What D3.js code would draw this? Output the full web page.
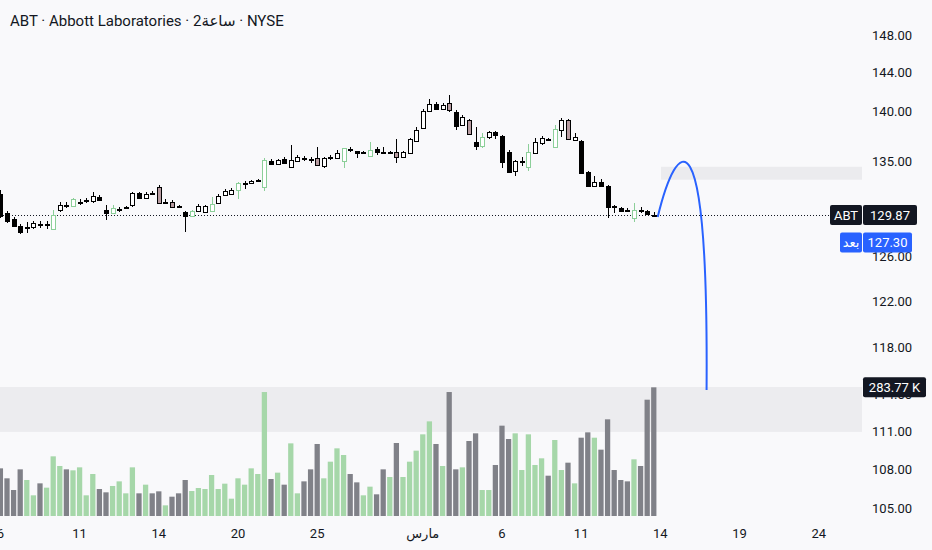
<!DOCTYPE html>
<html>
<head>
<meta charset="utf-8">
<script src="https://cdn.jsdelivr.net/npm/d3@7"></script>
<style>
  html, body { margin: 0; padding: 0; background: #f9f9fb; }
  svg { display: block; font-family: Roboto, "DejaVu Sans", sans-serif; }
</style>
</head>
<body>
<div id="chart"></div>
<script>
// 2h bars, ABT, Feb 6 -> Mar 13 (100 bars)
const openP = [131.87,130.07,129.51,128.85,128.75,128.75,129.04,129.02,128.56,130.35,
  130.84,130.75,131.08,131.28,131.20,131.58,130.35,130.07,130.43,130.57,
  130.82,131.96,131.49,131.98,132.54,131.08,131.11,130.70,130.16,129.79,
  130.26,130.16,130.26,131.01,131.77,131.87,132.25,132.90,132.93,133.20,
  132.58,135.10,134.78,135.24,134.51,135.10,135.35,135.25,135.40,134.61,
  135.47,135.40,135.04,136.25,136.05,135.92,135.59,136.25,135.98,135.95,
  135.92,135.43,135.85,137.07,138.31,140.08,140.80,140.25,140.87,140.00,
  138.67,139.15,136.97,136.57,137.47,137.97,137.54,135.98,134.09,135.07,
  134.51,135.85,136.84,137.24,136.47,138.14,139.15,137.14,137.07,134.02,
  132.67,133.06,132.64,130.77,130.55,130.37,129.63,130.37,130.26,129.90];
const highP = [132.25,130.26,129.69,129.04,129.22,129.32,129.32,129.32,130.35,131.11,
  131.11,131.49,131.39,131.49,132.06,131.77,130.82,130.82,130.63,130.73,
  132.06,132.06,132.06,132.16,132.74,131.39,131.30,130.82,130.26,130.35,
  130.92,130.82,131.58,131.87,132.35,132.45,133.03,133.12,133.22,133.32,
  135.40,135.27,135.27,135.50,136.64,135.66,135.56,135.46,136.47,135.46,
  135.66,136.15,136.35,136.45,136.05,136.02,136.97,136.47,136.47,136.05,
  137.24,136.05,137.34,138.41,140.22,141.24,140.94,140.84,141.65,140.18,
  139.68,139.25,138.47,137.81,138.07,138.04,137.64,136.15,135.17,135.50,
  136.74,137.37,137.57,137.34,138.64,139.32,139.25,137.81,137.14,134.09,
  133.60,133.28,132.74,130.80,130.64,130.51,130.98,130.67,130.35,130.20];
const lowP = [129.60,129.13,128.75,128.10,128.19,128.56,128.66,128.56,128.47,130.16,
  130.54,130.63,130.82,131.01,131.01,131.20,129.41,129.97,130.16,130.45,
  130.63,131.39,131.39,131.87,130.92,130.92,130.54,130.54,128.28,129.69,
  130.16,130.07,130.16,130.92,131.68,131.77,131.39,132.35,132.84,133.12,
  132.20,134.68,134.68,134.78,134.48,135.07,135.07,134.85,134.68,134.38,
  135.17,135.37,134.38,135.95,135.40,135.86,135.56,135.66,135.92,135.90,
  134.88,135.37,135.76,137.04,138.23,139.98,140.22,140.11,139.98,138.17,
  138.51,137.64,136.15,136.30,137.21,137.24,134.42,133.99,133.60,134.61,
  134.09,135.76,136.64,137.04,136.44,137.47,137.14,137.09,133.76,132.54,
  132.51,132.54,129.63,130.07,130.16,130.16,129.25,130.07,129.88,129.78];
const closeP = [129.79,129.32,128.85,128.28,128.76,129.13,129.02,129.05,129.88,130.82,
  130.80,131.39,131.11,131.31,131.68,131.30,130.07,130.54,130.45,130.60,
  131.96,131.49,131.87,131.94,131.01,131.11,130.63,130.66,129.79,130.26,
  130.73,130.73,130.92,131.68,132.16,132.25,132.93,132.93,133.15,133.22,
  135.17,134.78,135.17,134.85,135.17,135.43,135.32,135.22,134.68,135.40,
  135.50,135.82,136.33,136.22,135.82,135.95,136.15,135.92,135.95,135.98,
  135.50,135.92,137.21,138.14,140.08,140.80,140.29,140.63,140.11,138.57,
  139.42,137.71,136.57,137.41,137.97,137.64,135.00,134.02,135.07,135.10,
  135.92,136.91,137.31,137.21,138.21,139.15,137.21,137.41,133.86,132.64,
  133.06,132.64,130.66,130.69,130.30,130.33,130.35,130.33,129.95,129.87];
// volume in thousands
const volumeK = [105.1,83.1,57.3,102.9,79.4,45.6,72.0,62.5,131.6,110.3,
  102.9,100.7,107.3,45.6,92.6,59.5,52.2,66.2,76.4,50.0,
  107.3,50.0,69.1,50.0,54.4,23.5,42.6,50.0,79.4,55.1,
  61.7,59.5,90.4,59.5,71.3,38.2,83.1,69.1,105.1,92.6,
  273.4,81.6,95.6,69.1,160.2,50.0,76.4,102.9,158.8,83.1,
  119.8,149.2,134.5,92.6,74.2,45.6,64.7,47.8,102.9,86.0,
  161.0,86.0,119.8,144.1,180.1,208.7,158.8,110.3,273.4,102.9,
  107.3,165.4,182.3,57.3,57.3,112.5,199.2,169.8,182.3,101.4,
  180.1,112.5,127.2,88.9,167.6,101.4,117.6,72.0,172.7,184.5,
  172.7,146.3,213.2,101.4,79.4,76.4,125.0,110.3,256.5,283.77];
// bars highlighted by the chart's colouring (green when up, mauve when down)
const altBars = [8,11,17,24,26,29,32,36,40,48,52,56,60,68,71,73,80,84,86,96];

// axis labels (130.00 sits under the last-price tag, so it is not shown)
const dayTickIdx = [0,12,24,36,48,64,76,88,100,112,124];
const dayTickText = ["6","11","14","20","25","مارس","6","11","14","19","24"];
const priceTicks = [148,144,140,135,126,122,118,114,111,108,105];

// price / drawing levels
const lastPrice = 129.87;
const postPrice = 127.30;
const lastVolume = 283.77;
const curvePts = [[99.6,129.69],[102.5,137.34],[107.3,140.67],[107.0,114.39]];
const zoneBox = [100.1, 134.5, 133.25];   // start bar, top, bottom price
const lowerBand = [114.64, 110.96];      // top, bottom price

const width = 932, height = 550;
const plotRight = 862;

const x = d3.scaleLinear().domain([-0.06, 130.55]).range([0, plotRight]);
const y = d3.scaleLog().domain([105, 148]).range([508, 35]);
const yVol = d3.scaleLinear().domain([0, 290]).range([516, 384.5]);
const step = x(1) - x(0);

const bars = openP.map((o, i) => ({
  i, o, h: highP[i], l: lowP[i], c: closeP[i], v: volumeK[i],
  alt: altBars.includes(i)
}));

const svg = d3.select("#chart").append("svg")
  .attr("width", width)
  .attr("height", height);

svg.append("rect").attr("width", width).attr("height", height).attr("fill", "#f9f9fb");

// shaded drawings
svg.append("rect")
  .attr("x", 0).attr("width", plotRight)
  .attr("y", y(lowerBand[0]))
  .attr("height", y(lowerBand[1]) - y(lowerBand[0]))
  .attr("fill", "#ececef");

svg.append("rect")
  .attr("x", x(zoneBox[0])).attr("width", plotRight - x(zoneBox[0]))
  .attr("y", y(zoneBox[1]))
  .attr("height", y(zoneBox[2]) - y(zoneBox[1]))
  .attr("fill", "#ebebee");

// volume
const vw = step * 0.8;
svg.append("g")
  .selectAll("rect")
  .data(bars)
  .join("rect")
  .attr("x", d => x(d.i) - vw / 2)
  .attr("width", vw)
  .attr("y", d => yVol(d.v))
  .attr("height", d => yVol(0) - yVol(d.v))
  .attr("fill", d => d.c >= d.o ? "#a6d7a9" : "#808188");

// last price line
svg.append("line")
  .attr("x1", 0).attr("x2", 830)
  .attr("y1", Math.round(y(lastPrice)) + 0.5)
  .attr("y2", Math.round(y(lastPrice)) + 0.5)
  .attr("stroke", "#131722")
  .attr("stroke-dasharray", "1,2");

// candles
const candle = svg.append("g")
  .attr("shape-rendering", "crispEdges")
  .selectAll("g")
  .data(bars)
  .join("g");

const colOf = d => {
  const up = d.c >= d.o;
  if (up) return { stroke: d.alt ? "#8ccf99" : "#000", fill: "#fff" };
  return { stroke: "#000", fill: d.alt ? "#b89ca1" : "#000" };
};

candle.append("line")
  .attr("x1", d => Math.round(x(d.i)) + 0.5)
  .attr("x2", d => Math.round(x(d.i)) + 0.5)
  .attr("y1", d => y(d.h))
  .attr("y2", d => y(d.l))
  .attr("stroke", d => (d.c >= d.o && d.alt) ? "#8ccf99" : "#000");

candle.append("rect")
  .attr("x", d => Math.round(x(d.i)) + 0.5 - 2)
  .attr("width", 4)
  .attr("y", d => Math.round(y(Math.max(d.o, d.c))) + 0.5)
  .attr("height", d => Math.max(1, Math.round(y(Math.min(d.o, d.c))) - Math.round(y(Math.max(d.o, d.c)))))
  .attr("fill", d => colOf(d).fill)
  .attr("stroke", d => colOf(d).stroke);

// curve drawing
const cp = curvePts.map(([i, p]) => [x(i), y(p)]);
svg.append("path")
  .attr("d", `M${cp[0]} C${cp[1]} ${cp[2]} ${cp[3]}`)
  .attr("fill", "none")
  .attr("stroke", "#2962ff")
  .attr("stroke-width", 2);

// price axis
svg.append("g")
  .selectAll("text")
  .data(priceTicks)
  .join("text")
  .attr("x", 912)
  .attr("y", d => y(d))
  .attr("dy", "0.35em")
  .attr("text-anchor", "end")
  .attr("font-size", 13)
  .attr("fill", "#131722")
  .text(d => d.toFixed(2));

// time axis
svg.append("g")
  .selectAll("text")
  .data(dayTickIdx)
  .join("text")
  .attr("x", d => x(d))
  .attr("y", 533)
  .attr("dy", "0.35em")
  .attr("text-anchor", "middle")
  .attr("font-size", 13)
  .attr("fill", "#131722")
  .text((d, i) => dayTickText[i]);

// title
svg.append("text")
  .attr("x", 10).attr("y", 21)
  .attr("dy", "0.35em")
  .attr("font-size", 15)
  .attr("fill", "#131722")
  .text("ABT · Abbott Laboratories · 2\u200Eساعة · NYSE");

// right-side tags
function tag(x0, w, yc, bg, label) {
  svg.append("rect")
    .attr("x", x0).attr("y", yc - 10)
    .attr("width", w).attr("height", 20)
    .attr("rx", 2)
    .attr("fill", bg);
  svg.append("text")
    .attr("x", x0 + w / 2).attr("y", yc)
    .attr("dy", "0.35em")
    .attr("text-anchor", "middle")
    .attr("font-size", 13)
    .attr("fill", "#fff")
    .text(label);
}

const yLast = y(lastPrice);
tag(830, 32, yLast, "#131722", "ABT");
tag(863, 54, yLast, "#131722", lastPrice.toFixed(2));

const yPost = y(postPrice);
tag(840, 22, yPost, "#2962ff", "بعد");
tag(863, 49, yPost, "#2962ff", postPrice.toFixed(2));

tag(863, 63, yVol(lastVolume), "#131722", lastVolume.toFixed(2) + " K");
</script>
</body>
</html>
